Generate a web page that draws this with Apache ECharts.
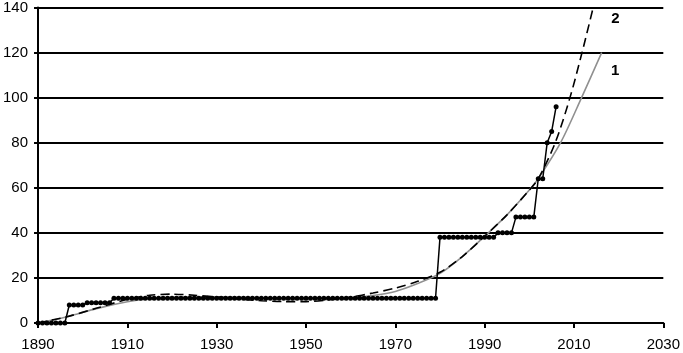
<!DOCTYPE html>
<html><head><meta charset="utf-8">
<script src="https://cdn.jsdelivr.net/npm/echarts@6/dist/echarts.min.js"></script>
<style>html,body{margin:0;padding:0;background:#fff}#c{width:683px;height:353px}</style>
</head><body><div id="c"></div>
<script>
// Observed yearly values (dotted step series)
const years = [
  1890,1891,1892,1893,1894,1895,1896,1897,1898,1899,
  1900,1901,1902,1903,1904,1905,1906,1907,1908,1909,
  1910,1911,1912,1913,1914,1915,1916,1917,1918,1919,
  1920,1921,1922,1923,1924,1925,1926,1927,1928,1929,
  1930,1931,1932,1933,1934,1935,1936,1937,1938,1939,
  1940,1941,1942,1943,1944,1945,1946,1947,1948,1949,
  1950,1951,1952,1953,1954,1955,1956,1957,1958,1959,
  1960,1961,1962,1963,1964,1965,1966,1967,1968,1969,
  1970,1971,1972,1973,1974,1975,1976,1977,1978,1979,
  1980,1981,1982,1983,1984,1985,1986,1987,1988,1989,
  1990,1991,1992,1993,1994,1995,1996,1997,1998,1999,
  2000,2001,2002,2003,2004,2005,2006
];
const values = [
  0,0,0,0,0,0,0,8,8,8,
  8,9,9,9,9,9,9,11,11,11,
  11,11,11,11,11,11,11,11,11,11,
  11,11,11,11,11,11,11,11,11,11,
  11,11,11,11,11,11,11,11,11,11,
  11,11,11,11,11,11,11,11,11,11,
  11,11,11,11,11,11,11,11,11,11,
  11,11,11,11,11,11,11,11,11,11,
  11,11,11,11,11,11,11,11,11,11,
  38,38,38,38,38,38,38,38,38,38,
  38,38,38,40,40,40,40,47,47,47,
  47,47,64,64,80,85,96
];
// Trend 1 (grey solid)
const trend1Years  = [1890,1896.5,1903.3,1910,1915,1920,1930,1940,1950,1960,1965,1970,1975,1980,1985,1990,1995,2000,2002,2007,2011.7,2016.2];
const trend1Values = [0,2.8,6.5,9.4,10.8,11.4,11.6,11.2,10.9,11.2,12.2,14,17.5,22,29.5,38.5,48,59,64,80,100,120];
// Trend 2 (black dashed)
const trend2Years  = [1890,1896.5,1903,1910,1915,1920,1925,1930,1935,1940,1945,1950,1955,1960,1965,1970,1975,1980,1985,1990,1995,2000,2002,2005.8,2009.1,2011.8,2014.3];
const trend2Values = [0,2.8,6.5,10.5,12.3,12.8,12.3,11.5,10.6,9.9,9.5,9.5,10.2,11.5,13.3,15.5,18.5,22.5,29.5,38.5,48,59,64,80,100,120,140];
// Axis
const xStart = 1890, xEnd = 2030, xStep = 20;
const yMin = 0, yMax = 140, yStep = 20;
// Curve labels
const curveLabels = [{text:'1', year:2019.2, value:112}, {text:'2', year:2019.3, value:135}];

const toXY = (ys, vs) => ys.map((y, i) => [y - xStart, vs[i]]);
const FONT = 'Liberation Sans, Arial, sans-serif';

const chart = echarts.init(document.getElementById('c'), null, {renderer: 'canvas'});
chart.setOption({
  animation: false,
  grid: {left: 37, right: 17, top: 7, bottom: 30, containLabel: false},
  xAxis: {
    type: 'value', min: 0, max: xEnd - xStart, interval: xStep,
    axisLine: {show: true, onZero: false, lineStyle: {color: '#000', width: 2}},
    axisTick: {show: true, inside: false, length: 5, lineStyle: {color: '#000', width: 2}},
    axisLabel: {formatter: v => String(v + xStart), color: '#000', fontSize: 15, fontFamily: FONT, margin: 14},
    splitLine: {show: false}
  },
  yAxis: {
    type: 'value', min: yMin, max: yMax, interval: yStep,
    axisLine: {show: true, lineStyle: {color: '#000', width: 2}},
    axisTick: {show: true, inside: false, length: 4, lineStyle: {color: '#000', width: 2}},
    axisLabel: {color: '#000', fontSize: 15, fontFamily: FONT, margin: 10},
    splitLine: {show: true, lineStyle: {color: '#000', width: 2}}
  },
  series: [
    {
      type: 'line', data: toXY(trend1Years, trend1Values), smooth: 0.3, symbol: 'none',
      lineStyle: {color: '#909090', width: 1.6}, z: 2,
      markPoint: {
        symbol: 'circle', symbolSize: 1, itemStyle: {color: 'rgba(0,0,0,0)'},
        label: {show: true, position: 'inside', color: '#000', fontWeight: 'bold', fontSize: 15, fontFamily: FONT},
        data: curveLabels.map(l => ({coord: [l.year - xStart, l.value], value: l.text, label: {formatter: l.text}}))
      }
    },
    {
      type: 'line', data: toXY(trend2Years, trend2Values), smooth: 0.3, symbol: 'none',
      lineStyle: {color: '#000', width: 1.6, type: [9, 5]}, z: 3
    },
    {
      type: 'line', data: toXY(years, values), symbol: 'circle', symbolSize: 5, showAllSymbol: true,
      itemStyle: {color: '#000'}, lineStyle: {color: '#000', width: 1.5}, z: 4
    }
  ]
});
</script>
</body></html>
